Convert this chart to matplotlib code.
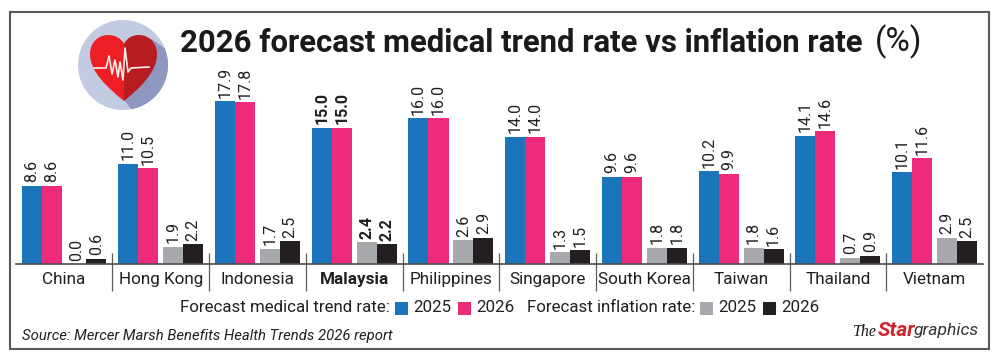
import numpy as np
import matplotlib
matplotlib.use('Agg')
import matplotlib.pyplot as plt
from matplotlib.patches import Rectangle, Circle, PathPatch, Polygon
from matplotlib.path import Path

countries = ['China', 'Hong Kong', 'Indonesia', 'Malaysia', 'Philippines',
             'Singapore', 'South Korea', 'Taiwan', 'Thailand', 'Vietnam']
medical_2025 = [8.6, 11.0, 17.9, 15.0, 16.0, 14.0, 9.6, 10.2, 14.1, 10.1]
medical_2026 = [8.6, 10.5, 17.8, 15.0, 16.0, 14.0, 9.6, 9.9, 14.6, 11.6]
inflation_2025 = [0.0, 1.9, 1.7, 2.4, 2.6, 1.3, 1.8, 1.8, 0.7, 2.9]
inflation_2026 = [0.6, 2.2, 2.5, 2.2, 2.9, 1.5, 1.8, 1.6, 0.9, 2.5]

BLUE = '#1b75bb'
PINK = '#ee2a7b'
GREY = '#a7a9ac'
BLACK = '#231f20'
TXT = '#231f20'

plt.rcParams['font.family'] = ['Roboto', 'DejaVu Sans']

W, H = 1000, 363
fig = plt.figure(figsize=(W / 100, H / 100), dpi=100)

# overlay in pixel coordinates for frame, title, legend and icon
bg = fig.add_axes([0, 0, 1, 1], zorder=0)
bg.set_xlim(0, W)
bg.set_ylim(H, 0)
bg.axis('off')
bg.add_patch(Rectangle((10, 12), 979, 337, fc='white', ec='#5a5a5a', lw=1.5))

# main bars
ax = fig.add_axes([16 / W, 1 - 264 / H, 967 / W, 250 / H], zorder=1)
ax.patch.set_alpha(0)
ax.set_xlim(-0.496, 9.5)
ax.set_ylim(0, 250 / 9.1)
for s in ['top', 'left', 'right']:
    ax.spines[s].set_visible(False)
ax.spines['bottom'].set_color('#4d4d4d')
ax.spines['bottom'].set_linewidth(1.2)
ax.set_yticks([])
ax.tick_params(axis='x', length=0, pad=6)
x = np.arange(len(countries))
ax.set_xticks(x)
ax.set_xticklabels(countries, fontsize=12.3, color=TXT)
ax.get_xticklabels()[3].set_fontweight('bold')

w = 0.207
series = [(medical_2025, -0.05 / 2 - 1.5 * w, BLUE),
          (medical_2026, -0.05 / 2 - 0.5 * w, PINK),
          (inflation_2025, 0.05 / 2 + 0.5 * w, GREY),
          (inflation_2026, 0.05 / 2 + 1.5 * w, BLACK)]
for vals, off, col in series:
    ax.bar(x + off, vals, w, color=col, linewidth=0)
    for i, v in enumerate(vals):
        ax.annotate('%.1f' % v, (x[i] + off, v), xytext=(0, 2.5),
                    textcoords='offset points', rotation=90, ha='center', va='bottom',
                    fontsize=11.5, color=TXT, fontweight='bold' if i == 3 else 'normal')

# group separators
ax.vlines(x[:-1] + 0.5, -27 / 9.1, 11 / 9.1, color='#5a5a5a', lw=0.9, clip_on=False)

# title
bg.text(180, 43, '2026 forecast medical trend rate vs inflation rate', fontsize=22.45,
        fontweight='bold', color='#1a1a1a', va='center', ha='left')
bg.text(875, 42, '(%)', fontsize=24, color='#1a1a1a', va='center', ha='left')

# legend
leg_y = 308
bg.text(390, leg_y, 'Forecast medical trend rate:', fontsize=12.2, color=TXT, va='center', ha='right')
bg.text(695, leg_y, 'Forecast inflation rate:', fontsize=12.2, color=TXT, va='center', ha='right')
for sx, col in [(395, BLUE), (458, PINK), (700, GREY), (763, BLACK)]:
    bg.add_patch(Rectangle((sx, leg_y - 6.5), 13, 13, fc=col, ec='none'))
for tx, lab in [(413, '2025'), (476, '2026'), (718, '2025'), (781, '2026')]:
    bg.text(tx, leg_y, lab, fontsize=12.2, color=TXT, va='center', ha='left')

# source
bg.text(22, 336, 'Source: Mercer Marsh Benefits Health Trends 2026 report', fontsize=10.7,
        style='italic', color=TXT, va='center', ha='left')

# logo
bg.text(853, 332, 'The', fontsize=11.5, family=['Liberation Serif'], style='italic', color='#1a1a1a',
        va='center', ha='left')
bg.text(877.5, 330, 'Star', fontsize=15, fontweight='bold', style='italic', color='#d2232a',
        va='center', ha='left')
bg.text(914, 331, 'graphics', fontsize=12.6, style='italic', color='#333333', va='center', ha='left')

# heart icon
disc = Circle((123, 65), 45, fc='#c3cbe3', ec='none')
bg.add_patch(disc)
shadow = Polygon([[150, 38], [190, 65], [190, 120], [140, 120], [124, 100]], fc='#8d97bf', ec='none')
bg.add_patch(shadow)
shadow.set_clip_path(Circle((123, 65), 45, transform=bg.transData))
left = Path([(124, 101), (108, 88), (90, 72), (90, 54), (90, 42), (99, 35), (108, 35),
             (115, 35), (121, 38), (124, 44), (124, 101)],
            [Path.MOVETO, Path.CURVE4, Path.CURVE4, Path.CURVE4, Path.CURVE4, Path.CURVE4, Path.CURVE4,
             Path.CURVE4, Path.CURVE4, Path.CURVE4, Path.LINETO])
right = Path([(124, 101), (140, 88), (157, 72), (157, 54), (157, 42), (148, 35), (139, 35),
              (132, 35), (127, 38), (124, 44), (124, 101)],
             [Path.MOVETO, Path.CURVE4, Path.CURVE4, Path.CURVE4, Path.CURVE4, Path.CURVE4, Path.CURVE4,
              Path.CURVE4, Path.CURVE4, Path.CURVE4, Path.LINETO])
bg.add_patch(PathPatch(left, fc='#ed1f24', ec='none'))
bg.add_patch(PathPatch(right, fc='#b71c20', ec='none'))
bg.plot([94, 106, 109, 112, 115, 118, 120, 123, 125, 128, 131, 149],
        [68, 68, 56, 74, 60, 77, 62, 80, 48, 72, 68, 67], color='#fdeee8', lw=1.2)

fig.savefig('out.png', dpi=100)
